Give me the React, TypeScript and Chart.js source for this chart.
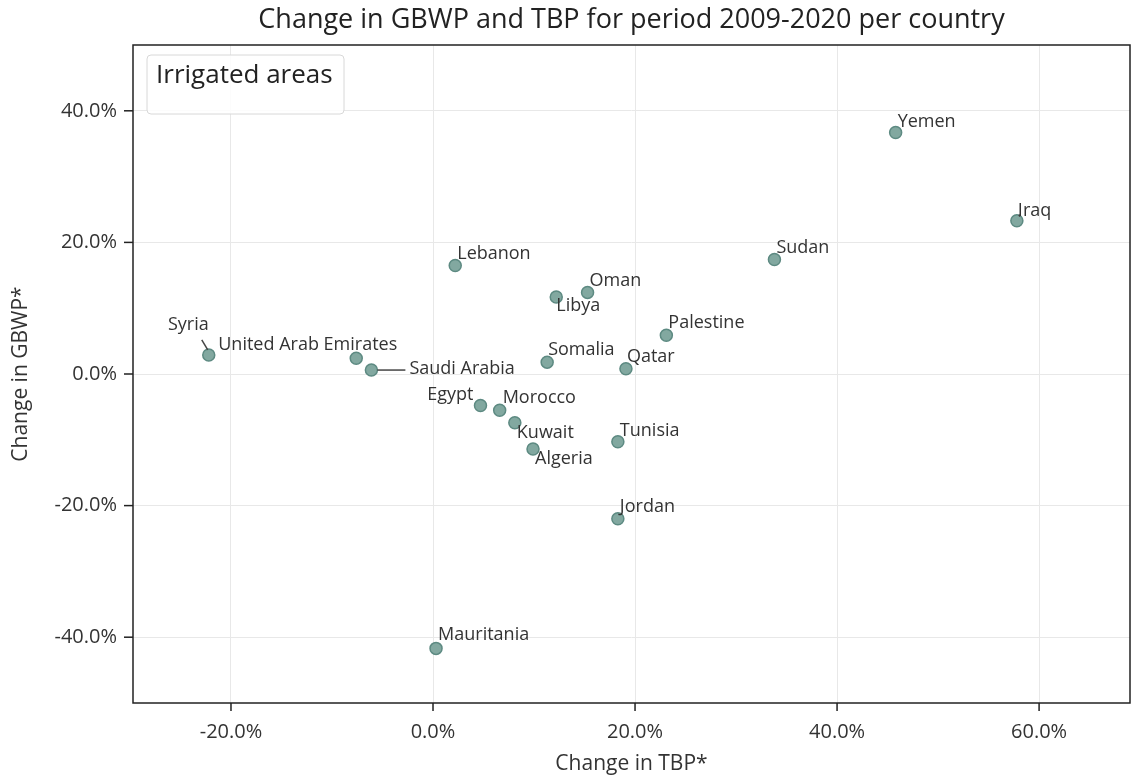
import React, { useEffect, useRef } from "react";
import { Chart, registerables } from "chart.js";

Chart.register(...registerables);

const countries = [
  "Yemen", "Iraq", "Sudan", "Lebanon", "Oman", "Libya", "Palestine", "Syria",
  "United Arab Emirates", "Saudi Arabia", "Somalia", "Qatar", "Egypt", "Morocco",
  "Kuwait", "Algeria", "Tunisia", "Jordan", "Mauritania",
];
const changeTBP = [
  45.8, 57.8, 33.8, 2.2, 15.3, 12.2, 23.1, -22.2,
  -7.6, -6.1, 11.3, 19.1, 4.7, 6.6,
  8.1, 9.9, 18.3, 18.3, 0.3,
];
const changeGBWP = [
  36.7, 23.3, 17.4, 16.5, 12.4, 11.7, 5.9, 2.9,
  2.4, 0.6, 1.8, 0.8, -4.8, -5.5,
  -7.4, -11.4, -10.3, -22.0, -41.7,
];
const xTickValues = [-20, 0, 20, 40, 60];
const yTickValues = [-40, -20, 0, 20, 40];

// label placement (pixel offsets from the point: dx, dy to text middle, align, leader)
const labelOffsets: [number, number, string, boolean][] = [
  [2, -11, "left", false],
  [1, -10, "left", true],
  [2, -12, "left", false],
  [2, -12, "left", false],
  [2, -12, "left", false],
  [0, 9, "left", false],
  [2, -12, "left", false],
  [0, -30, "right", true],
  [-138, -13, "left", false],
  [38, -1, "left", true],
  [1, -12, "left", false],
  [1, -12, "left", false],
  [-7, -11, "right", false],
  [3, -12, "left", false],
  [2, 10, "left", false],
  [2, 10, "left", false],
  [2, -11, "left", false],
  [2, -12, "left", false],
  [2, -14, "left", false],
];

const FONT = "'Open Sans', 'Noto Sans', sans-serif";

const decorPlugin = {
  id: "decor",
  afterDatasetsDraw(chart: any) {
    const { ctx } = chart;
    const meta = chart.getDatasetMeta(0);
    ctx.save();
    ctx.font = `18px ${FONT}`;
    ctx.fillStyle = "#333";
    ctx.strokeStyle = "#444";
    ctx.lineWidth = 1.5;
    ctx.textBaseline = "middle";
    meta.data.forEach((el: any, i: number) => {
      const [dx, dy, align, leader] = labelOffsets[i];
      const tx = el.x + dx;
      const ty = el.y + dy;
      if (leader) {
        ctx.beginPath();
        if (align === "right") {
          ctx.moveTo(tx - 7, ty + 15);
          ctx.lineTo(el.x - 1, el.y - 5);
        } else if (Math.abs(dy) < 3) {
          ctx.moveTo(el.x + 6, el.y);
          ctx.lineTo(tx - 4, el.y);
        } else {
          ctx.moveTo(el.x + 3, el.y - 4);
          ctx.lineTo(tx + 1, ty + 4);
        }
        ctx.stroke();
      }
      ctx.textAlign = align as CanvasTextAlign;
      ctx.fillText(countries[i], tx, ty);
    });
    ctx.restore();
  },
  afterDraw(chart: any) {
    const { ctx, chartArea } = chart;
    const xs = chart.scales.x;
    const ys = chart.scales.y;
    ctx.save();
    // frame
    ctx.strokeStyle = "#222";
    ctx.lineWidth = 1.5;
    ctx.strokeRect(chartArea.left, chartArea.top, chartArea.right - chartArea.left, chartArea.bottom - chartArea.top);
    // tick marks
    ctx.fillStyle = "#222";
    for (const v of xTickValues) {
      const px = xs.getPixelForValue(v);
      ctx.fillRect(px - 0.75, chartArea.bottom, 1.5, 8);
    }
    for (const v of yTickValues) {
      const py = ys.getPixelForValue(v);
      ctx.fillRect(chartArea.left - 9, py - 0.75, 9, 1.5);
    }
    // title
    ctx.fillStyle = "#222";
    ctx.font = `27px ${FONT}`;
    ctx.textAlign = "center";
    ctx.textBaseline = "middle";
    ctx.fillText("Change in GBWP and TBP for period 2009-2020 per country", (chartArea.left + chartArea.right) / 2, 20);
    // legend box
    const bx = chartArea.left + 14, by = chartArea.top + 10, bw = 197, bh = 59, r = 4;
    ctx.beginPath();
    ctx.moveTo(bx + r, by);
    ctx.lineTo(bx + bw - r, by);
    ctx.quadraticCurveTo(bx + bw, by, bx + bw, by + r);
    ctx.lineTo(bx + bw, by + bh - r);
    ctx.quadraticCurveTo(bx + bw, by + bh, bx + bw - r, by + bh);
    ctx.lineTo(bx + r, by + bh);
    ctx.quadraticCurveTo(bx, by + bh, bx, by + bh - r);
    ctx.lineTo(bx, by + r);
    ctx.quadraticCurveTo(bx, by, bx + r, by);
    ctx.closePath();
    ctx.fillStyle = "rgba(255,255,255,0.85)";
    ctx.fill();
    ctx.strokeStyle = "#d8d8d8";
    ctx.lineWidth = 1;
    ctx.stroke();
    ctx.fillStyle = "#222";
    ctx.font = `26px ${FONT}`;
    ctx.textAlign = "left";
    ctx.fillText("Irrigated areas", bx + 9, by + 21);
    ctx.restore();
  },
};

export default function App() {
  const ref = useRef<HTMLCanvasElement>(null);
  useEffect(() => {
    if (!ref.current) return;
    const chart = new Chart(ref.current, {
      type: "scatter",
      data: {
        datasets: [
          {
            label: "Irrigated areas",
            data: changeTBP.map((x, i) => ({ x, y: changeGBWP[i] })),
            backgroundColor: "#82a8a0",
            borderColor: "#5d8a82",
            borderWidth: 1.5,
            pointRadius: 6,
            pointHoverRadius: 6,
          },
        ],
      },
      options: {
        responsive: false,
        animation: false,
        events: [],
        layout: { padding: { top: 45, right: 10, left: 0, bottom: 0 } },
        plugins: { legend: { display: false }, tooltip: { enabled: false } },
        scales: {
          x: {
            type: "linear",
            min: -29.7,
            max: 69.0,
            afterBuildTicks: (s: any) => { s.ticks = xTickValues.map((v) => ({ value: v })); },
            afterFit: (s: any) => { s.height = 75; },
            grid: { color: "#e8e8e8", drawTicks: false },
            border: { display: false },
            ticks: {
              color: "#333",
              font: { family: FONT, size: 20 },
              padding: 17,
              callback: (v: any) => `${Number(v).toFixed(1)}%`,
            },
            title: {
              display: true,
              text: "Change in TBP*",
              color: "#333",
              font: { family: FONT, size: 21 },
              padding: { top: 0, bottom: 1 },
            },
          },
          y: {
            type: "linear",
            min: -50,
            max: 50,
            afterBuildTicks: (s: any) => { s.ticks = yTickValues.map((v) => ({ value: v })); },
            afterFit: (s: any) => { s.width = 133; },
            grid: { color: "#e8e8e8", drawTicks: false },
            border: { display: false },
            ticks: {
              color: "#333",
              font: { family: FONT, size: 20 },
              padding: 16,
              callback: (v: any) => `${Number(v).toFixed(1)}%`,
            },
            title: {
              display: true,
              text: "Change in GBWP*",
              color: "#333",
              font: { family: FONT, size: 21 },
              padding: { top: 8, bottom: 0 },
            },
          },
        },
      },
      plugins: [decorPlugin],
    });
    return () => chart.destroy();
  }, []);
  return (
    <div style={{ position: "fixed", left: 0, top: 0, width: 1140, height: 778, background: "#fff" }}>
      <canvas ref={ref} width={1140} height={778} style={{ width: 1140, height: 778 }} />
    </div>
  );
}
